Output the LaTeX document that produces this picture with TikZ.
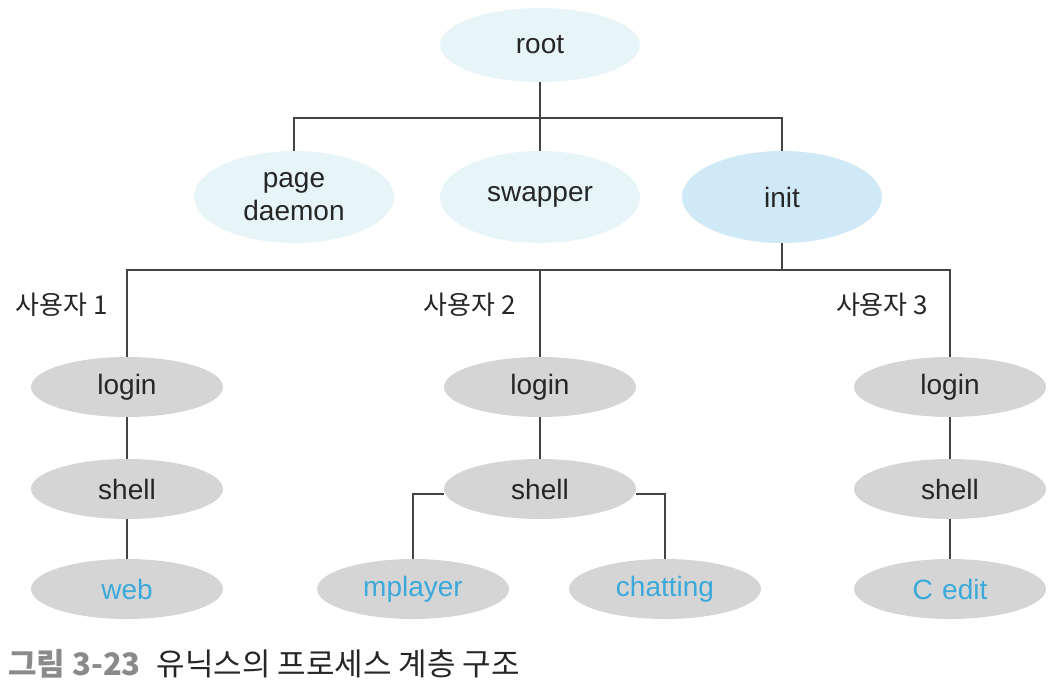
\documentclass[tikz,border=0pt]{standalone}
\usepackage{fontspec}
\setmainfont{Liberation Sans}
\newfontfamily\kr{Noto Sans CJK KR}
\usetikzlibrary{shapes.geometric}
\definecolor{paleblue}{HTML}{E7F4F8}
\definecolor{initblue}{HTML}{D0E9F7}
\definecolor{nodegray}{HTML}{D5D5D6}
\definecolor{txtblue}{HTML}{3BA9DA}
\definecolor{linegray}{HTML}{444444}
\definecolor{capgray}{HTML}{8A8A8A}
\begin{document}
\begin{tikzpicture}[x=1pt,y=-1pt,
  proc/.style={ellipse,inner sep=0pt,font=\fontsize{28}{33}\selectfont,text=black!85},
  top/.style={proc,fill=paleblue,minimum width=200pt,minimum height=74pt},
  mid/.style={proc,fill=paleblue,minimum width=200pt,minimum height=92pt,align=center},
  usr/.style={proc,fill=nodegray,minimum width=192pt,minimum height=60pt},
  leaf/.style={usr,text=txtblue},
  link/.style={draw=linegray,line width=1.6pt},
  ulabel/.style={font=\kr\fontsize{26}{30}\selectfont,text=black!85}]
\useasboundingbox (0,0) rectangle (1060,697);

\node[top] (root) at (540,45) {root};
\node[mid] (page) at (294,197) {page\\daemon};
\node[mid] (swap) at (540,197) {swapper};
\node[mid,fill=initblue] (init) at (782,197) {init};

\coordinate (b1) at (540,118);
\draw[link] (root.south) -- (b1);
\draw[link] (page.north) |- (b1) -| (init.north);
\draw[link] (b1) -- (swap.north);

\node[usr] (l1) at (127,387) {login};
\node[usr] (l2) at (540,387) {login};
\node[usr] (l3) at (950,387) {login};
\node[usr] (s1) at (127,489) {shell};
\node[usr] (s2) at (540,489) {shell};
\node[usr] (s3) at (950,489) {shell};
\node[leaf] (web) at (127,589) {web};
\node[leaf] (mp) at (413,589) {mplayer};
\node[leaf] (chat) at (665,589) {chatting};
\node[leaf] (ced) at (950,589) {C\,\,edit};

\coordinate (b2) at (782,270);
\draw[link] (init.south) -- (b2);
\draw[link] (l1.north) |- (b2) -| (l3.north);
\draw[link] (l2.north) -- (l2.north |- b2);

\node[ulabel] (u1) at (62,305) {사용자 1};
\node[ulabel] (u2) at (470,305) {사용자 2};
\node[ulabel] (u3) at (882,305) {사용자 3};

\draw[link] (l1) -- (s1);
\draw[link] (s1) -- (web);
\draw[link] (l2) -- (s2);
\draw[link] (l3) -- (s3);
\draw[link] (s3) -- (ced);
\draw[link] ([yshift=-5pt]s2.west) -| (mp.north);
\draw[link] ([yshift=-5pt]s2.east) -| (chat.north);

\node[anchor=west,font=\kr\fontsize{31}{35}\selectfont,inner sep=0pt] (cap) at (8,664)
  {\textcolor{capgray}{\bfseries 그림 3-23}\hspace{16pt}\textcolor{black!85}{유닉스의 프로세스 계층 구조}};
\end{tikzpicture}
\end{document}
